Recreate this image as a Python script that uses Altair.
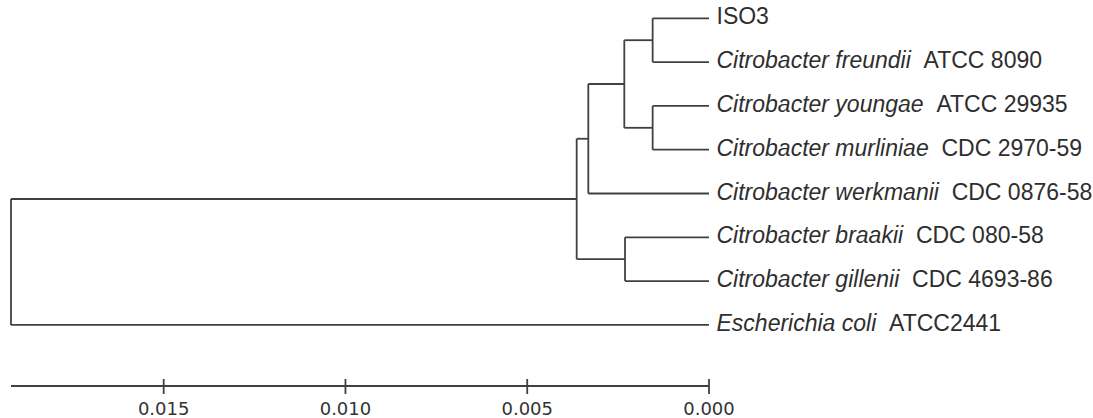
import altair as alt
import pandas as pd

# ---- data ----
species = ["", "Citrobacter freundii", "Citrobacter youngae", "Citrobacter murliniae",
           "Citrobacter werkmanii", "Citrobacter braakii", "Citrobacter gillenii",
           "Escherichia coli"]
strains = ["ISO3", "ATCC 8090", "ATCC 29935", "CDC 2970-59", "CDC 0876-58",
           "CDC 080-58", "CDC 4693-86", "ATCC2441"]
separators = ["", "  ", "  ", "  ", "  ", "  ", "  ", "  "]

# merges: internal nodes numbered from 8 upwards
merge_left = [0, 2, 8, 10, 5, 11, 13]
merge_right = [1, 3, 9, 4, 6, 12, 7]
merge_height = [0.00155, 0.00155, 0.00233, 0.00332, 0.00231, 0.00364, 0.0192]

scale_ticks = [0.015, 0.010, 0.005, 0.000]
scale_labels = ["0.015", "0.010", "0.005", "0.000"]

# ---- layout ----
W, H = 698, 418
PAD_L = 11
X_MAX = 0.0192
TOP_Y, STEP = 18.3, 43.8
FS = 23
LINE = "#404040"
TEXT = "#2e2e2e"

# Arial / Liberation Sans advance widths (1/1000 em)
AW = {" ": 278, "-": 333, "A": 667, "C": 722, "D": 722, "E": 667, "I": 278, "O": 778,
      "S": 667, "T": 611, "a": 556, "b": 556, "c": 500, "d": 556, "e": 556, "f": 278,
      "g": 556, "h": 556, "i": 222, "k": 500, "l": 222, "m": 833, "n": 556, "o": 556,
      "r": 333, "s": 500, "t": 278, "u": 556, "w": 722, "y": 500}
for ch in "0123456789":
    AW[ch] = 556


def text_w(s):
    return sum(AW.get(c, 556) for c in s) / 1000 * FS


n_leaf = len(species)
node_y = {i: float(i) for i in range(n_leaf)}
node_h = {i: 0.0 for i in range(n_leaf)}
segs = []
for k, (l, r, h) in enumerate(zip(merge_left, merge_right, merge_height)):
    nid = n_leaf + k
    node_h[nid] = h
    node_y[nid] = (node_y[l] + node_y[r]) / 2
    for c in (l, r):
        segs.append({"x": node_h[c], "x2": h, "y": node_y[c], "y2": node_y[c]})
    segs.append({"x": h, "x2": h, "y": node_y[l], "y2": node_y[r]})
seg_df = pd.DataFrame(segs)

upp = X_MAX / W  # data units per pixel
GAP = 7.5
leaf_df = pd.DataFrame({
    "idx": list(range(n_leaf)),
    "species": species,
    "strain": strains,
    "sx": [0.0] * n_leaf,
    "strain_x": [-(GAP + text_w(sp + sep)) * upp for sp, sep in zip(species, separators)],
})

xs = alt.Scale(domain=[0, X_MAX], reverse=True, nice=False, zero=False)
ys = alt.Scale(domain=[-TOP_Y / STEP, (H - TOP_Y) / STEP], reverse=True, nice=False, zero=False)

tree = alt.Chart(seg_df).mark_rule(color=LINE, strokeWidth=1.8).encode(
    x=alt.X("x:Q", scale=xs, axis=None), x2="x2",
    y=alt.Y("y:Q", scale=ys, axis=None), y2="y2")

sp_text = alt.Chart(leaf_df).mark_text(
    align="left", baseline="alphabetic", dx=GAP, dy=6, font="Liberation Sans",
    fontSize=FS, fontStyle="italic", color=TEXT).encode(
    x=alt.X("sx:Q", scale=xs, axis=None), y=alt.Y("idx:Q", scale=ys, axis=None),
    text="species:N")

st_text = alt.Chart(leaf_df).mark_text(
    align="left", baseline="alphabetic", dy=6, font="Liberation Sans",
    fontSize=FS, color=TEXT).encode(
    x=alt.X("strain_x:Q", scale=xs, axis=None), y=alt.Y("idx:Q", scale=ys, axis=None),
    text="strain:N")

bar_df = pd.DataFrame({"a": [X_MAX], "b": [0.0]})
bar = alt.Chart(bar_df).mark_rule(color=LINE, strokeWidth=1.8).encode(
    x=alt.X("a:Q", scale=xs, axis=None), x2="b", y=alt.value(386))

tick_df = pd.DataFrame({"t": scale_ticks, "lab": scale_labels})
ticks = alt.Chart(tick_df).mark_rule(color=LINE, strokeWidth=1.8).encode(
    x=alt.X("t:Q", scale=xs, axis=None), y=alt.value(379), y2=alt.value(394))
tick_lab = alt.Chart(tick_df).mark_text(
    align="center", baseline="alphabetic", font="DejaVu Sans", fontSize=18,
    color="#333333").encode(
    x=alt.X("t:Q", scale=xs, axis=None), y=alt.value(415), text="lab:N")

chart = alt.layer(tree, sp_text, st_text, bar, ticks, tick_lab).properties(
    width=W, height=H,
    autosize=alt.AutoSizeParams(type="none"),
    padding={"left": PAD_L, "top": 0, "right": 1093 - PAD_L - W, "bottom": 0},
    background="white",
).configure_view(stroke=None)

chart.save("out.html", embed_options={"renderer": "svg", "actions": False})
